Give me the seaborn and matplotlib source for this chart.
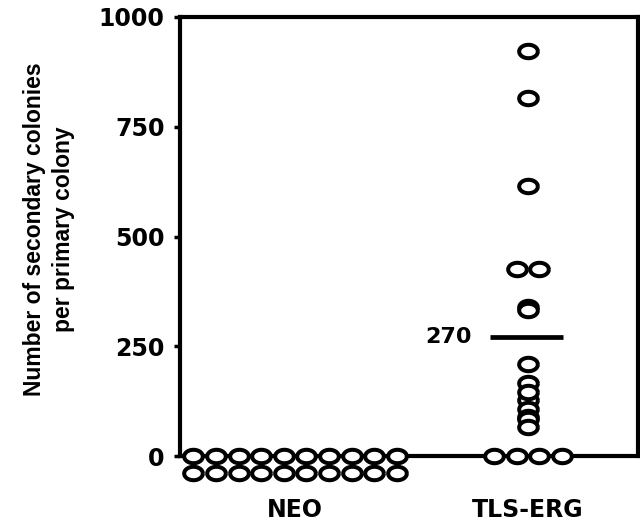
import numpy as np
import pandas as pd
import matplotlib
matplotlib.use('Agg')
import matplotlib.pyplot as plt
import seaborn as sns

# Data
groups = ['NEO', 'TLS-ERG']
neo_values = [0] * 20
tls_erg_values = [922, 815, 616, 425, 425, 339, 333, 210, 167, 146, 128,
                  107, 88, 84, 66, 0, 0, 0, 0]
mean_value = 270
mean_label = '270'
y_ticks = [0, 250, 500, 750, 1000]

sns.set_style('white')
plt.rcParams['font.family'] = ['DejaVu Sans']
plt.rcParams['text.color'] = 'black'
plt.rcParams['xtick.color'] = 'black'
plt.rcParams['ytick.color'] = 'black'
plt.rcParams['axes.labelcolor'] = 'black'

# layout: identical values are spread sideways, rows of 10 stack downward
step_x = 0.097
step_y = 38.0


def layout(values, center):
    xs, ys = [], []
    vals = pd.Series(values)
    for v, cnt in vals.value_counts().items():
        for row in range(int(np.ceil(cnt / 10))):
            n = min(10, cnt - row * 10)
            offs = (np.arange(n) - (n - 1) / 2) * step_x
            xs.extend(center + offs)
            ys.extend([v - row * step_y] * n)
    return xs, ys


rows = []
for i, (g, vals) in enumerate(zip(groups, [neo_values, tls_erg_values])):
    xs, ys = layout(vals, i)
    rows += [{'group': g, 'x': x, 'y': y} for x, y in zip(xs, ys)]
df = pd.DataFrame(rows)

# ellipse marker
t = np.linspace(0, 2 * np.pi, 60)
ellipse = np.column_stack([np.cos(t), 0.72 * np.sin(t)])

fig = plt.figure(figsize=(6.4, 5.23), dpi=100)
ax = fig.add_axes([180 / 640, 67 / 523, 458 / 640, 439 / 523])

sns.scatterplot(data=df, x='x', y='y', ax=ax, marker=ellipse, s=180,
                facecolor='white', edgecolor='black', linewidth=2.9,
                clip_on=False, zorder=5, legend=False)

ax.hlines(mean_value, 1 - 0.165, 1 + 0.15, color='black', lw=3.4, zorder=4)
ax.text(1 - 0.24, mean_value, mean_label, ha='right', va='center',
        fontsize=16, fontweight='bold')

ax.set_xlim(-0.494, 1.472)
ax.set_ylim(0, 1000)
ax.set_yticks(y_ticks)
ax.set_yticklabels([str(v) for v in y_ticks], fontsize=17, fontweight='bold')
ax.set_xticks(range(len(groups)))
ax.set_xticklabels(groups, fontsize=17, fontweight='bold')
ax.tick_params(axis='x', length=0, pad=30)
ax.tick_params(axis='y', direction='out', length=4, width=2.5, pad=7, left=True)

for s in ax.spines.values():
    s.set_linewidth(3)
    s.set_color('black')

ax.set_xlabel('')
ax.set_ylabel('Number of secondary colonies\nper primary colony',
              fontsize=16.5, fontweight='bold', family=['Liberation Sans', 'DejaVu Sans'],
              linespacing=1.35)
ax.yaxis.set_label_coords(-0.229, 0.517)

fig.savefig('out.png', dpi=100)
